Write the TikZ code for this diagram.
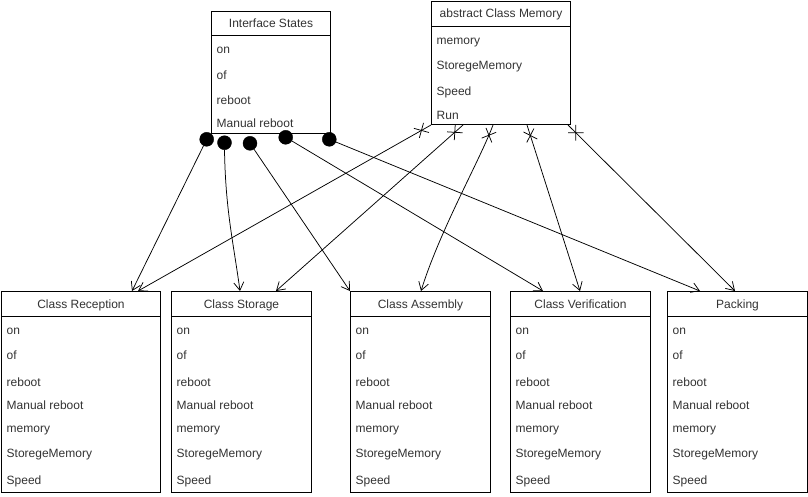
\documentclass[tikz,border=0pt]{standalone}
\usepackage{fontspec}
\setmainfont{Liberation Sans}
\usetikzlibrary{arrows.meta,calc,decorations.markings}
\begin{document}
\begin{tikzpicture}[x=1pt,y=-1pt,
  every node/.style={font=\fontsize{12}{14}\selectfont},
  box/.style={draw, rectangle, anchor=north west, inner sep=0pt, line width=1pt},
  ttl/.style={anchor=base, inner sep=0pt, text=black!80},
  attr/.style={anchor=base west, inner sep=0pt, text=black!80},
  dot/.style={circle, fill=black, draw=black, minimum size=14pt, inner sep=0pt},
  arr/.style={line width=0.75pt, -{Straight Barb[length=8pt,width=10pt,line width=0.75pt]}},
  xstart/.style={postaction={decorate}, decoration={markings,
     mark=at position 11pt with {\draw[-, line width=0.75pt] (-5.5pt,-5.5pt)--(5.5pt,5.5pt) (-5.5pt,5.5pt)--(5.5pt,-5.5pt);}}}
]
\fill[white] (0,0) rectangle (808,496);
\useasboundingbox (0,0) rectangle (808,496);

% Interface States
\node[box, minimum width=119pt, minimum height=122pt] (ifs) at (211,11) {};
\draw[line width=1pt] ($(ifs.north west)+(0,24)$) -- ($(ifs.north east)+(0,24)$);
\node[ttl] (ifs-t) at ($(ifs.north)+(0,16.7)$) {Interface States};
\foreach \i/\a/\b in {1/on/42, 2/of/68, 3/reboot/93.3, 4/Manual reboot/116.7}
  \node[attr] (ifs-\i) at ($(ifs.north west)+(5.5,\b)$) {\a};

% abstract Class Memory
\node[box, minimum width=139pt, minimum height=123pt] (mem) at (431,1) {};
\draw[line width=1pt] ($(mem.north west)+(0,25)$) -- ($(mem.north east)+(0,25)$);
\node[ttl] (mem-t) at ($(mem.north)+(0,16.7)$) {abstract Class Memory};
\foreach \i/\a/\b in {1/memory/43.3, 2/StoregeMemory/68.3, 3/Speed/94, 4/Run/118}
  \node[attr] (mem-\i) at ($(mem.north west)+(5.5,\b)$) {\a};

% bottom classes
\foreach \n/\x/\w/\t in {rec/1/159/Class Reception, sto/171/140/Class Storage,
    asm/350/140/Class Assembly, ver/510/140/Class Verification, pac/667/140/Packing} {
  \node[box, minimum width=\w pt, minimum height=201pt] (\n) at (\x,291) {};
  \draw[line width=1pt] ($(\n.north west)+(0,25)$) -- ($(\n.north east)+(0,25)$);
  \node[ttl] (\n-t) at ($(\n.north)+(0,17.3)$) {\t};
  \foreach \i/\a/\b in {1/on/43, 2/of/68, 3/reboot/95, 4/Manual reboot/118,
      5/memory/141, 6/StoregeMemory/166, 7/Speed/193}
    \node[attr] (\n-\i) at ($(\n.north west)+(5.5,\b)$) {\a};
}

% filled circles under Interface States
\node[dot] (c1) at (206.7,139.3) {};
\node[dot] (c2) at (224.5,142.7) {};
\node[dot] (c3) at (250,143.3) {};
\node[dot] (c4) at (285.7,137.3) {};
\node[dot] (c5) at (329.3,139.3) {};

% connectors from circles
\draw[arr] (c1) -- ($(rec.north west)+(131,0)$);
\draw[arr] (c2.south) .. controls (225.5,210) and (233,240) .. ($(sto.north west)+(69,0)$);
\draw[arr] (c3) -- (asm.north west);
\draw[arr] (c4) -- ($(ver.north west)+(33,0)$);
\draw[arr] (c5) -- ($(pac.north west)+(33,0)$);

% connectors from abstract Class Memory
\draw[arr, xstart] (mem.south west) -- ($(rec.north west)+(137,0)$);
\draw[arr, xstart] ($(mem.south west)+(32,0)$) -- ($(sto.north west)+(105,0)$);
\draw[arr, xstart] ($(mem.south west)+(62,0)$) .. controls (480,160) and (440,230) .. ($(asm.north west)+(71,0)$);
\draw[arr, xstart] ($(mem.south west)+(96,0)$) -- ($(ver.north west)+(70,0)$);
\draw[arr, xstart] ($(mem.south west)+(137,0)$) -- ($(pac.north west)+(68,0)$);
\end{tikzpicture}
\end{document}
